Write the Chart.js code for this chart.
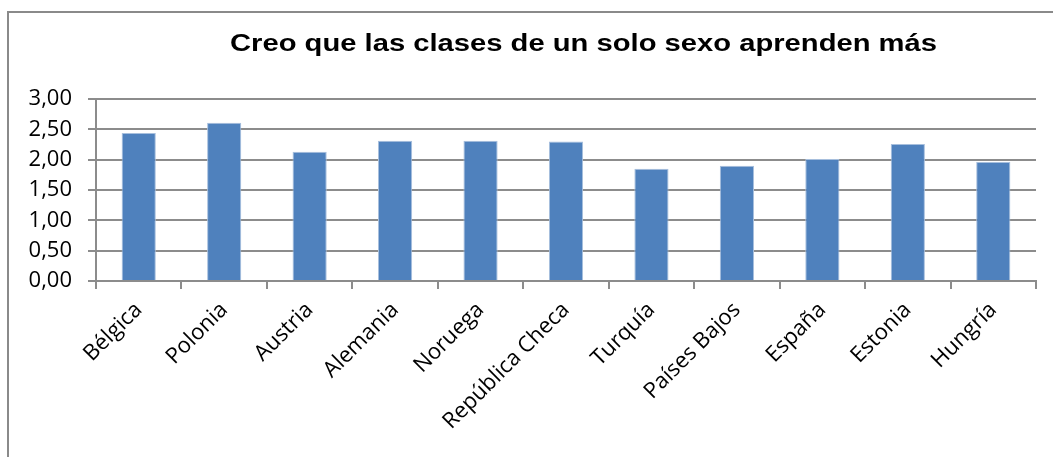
<!DOCTYPE html>
<html>
<head>
<meta charset="utf-8">
<script src="https://cdn.jsdelivr.net/npm/chart.js@4.4.1/dist/chart.umd.min.js"></script>
<style>
  html, body { margin:0; padding:0; background:#fff; }
  #wrap { width:1053px; height:457px; position:relative; }
</style>
</head>
<body>
<div id="wrap"><canvas id="chart"></canvas></div>
<script>
// data
const countries = ['Bélgica','Polonia','Austria','Alemania','Noruega','República Checa','Turquía','Países Bajos','España','Estonia','Hungría'];
const scores = [2.44, 2.61, 2.13, 2.31, 2.31, 2.30, 1.85, 1.90, 2.01, 2.26, 1.96];
const titleText = 'Creo que las clases de un solo sexo aprenden más';
const yMin = 0, yMax = 3, yStep = 0.5;

const gridGrey = '#8c8c8c';

// frame around the chart (left and top edges are visible in the reference)
const framePlugin = {
  id: 'frame',
  beforeDraw(chart) {
    const c = chart.ctx;
    c.save();
    c.fillStyle = '#fff';
    c.fillRect(0, 0, chart.width, chart.height);
    c.strokeStyle = '#8a8a8a';
    c.lineWidth = 2;
    c.beginPath();
    c.moveTo(8, chart.height + 2);
    c.lineTo(8, 12);
    c.lineTo(chart.width + 2, 12);
    c.stroke();
    c.restore();
  }
};

// the original picture is stretched sideways, so the title is drawn wide
const titlePlugin = {
  id: 'wideTitle',
  afterDraw(chart) {
    const c = chart.ctx;
    c.save();
    c.font = 'bold 23.5px "Liberation Sans", Arial, sans-serif';
    c.fillStyle = '#000';
    c.textBaseline = 'alphabetic';
    const w = c.measureText(titleText).width;
    const sx = 707 / w;
    c.translate(583.5, 51);
    c.scale(sx, 1);
    c.textAlign = 'center';
    c.fillText(titleText, 0, 0);
    c.restore();
  }
};

new Chart(document.getElementById('chart'), {
  type: 'bar',
  data: {
    labels: countries,
    datasets: [{
      data: scores,
      backgroundColor: '#4f81bd',
      borderColor: '#a7bfdd',
      borderWidth: {top:1, left:1, right:1, bottom:0},
      barPercentage: 0.4,
      categoryPercentage: 1
    }]
  },
  options: {
    responsive: true,
    maintainAspectRatio: false,
    animation: false,
    layout: { padding: {left:0, right:17, top:99, bottom:0} },
    plugins: {
      legend: { display:false },
      tooltip: { enabled:false },
      title: { display:false }
    },
    scales: {
      y: {
        min: yMin, max: yMax,
        ticks: {
          stepSize: yStep,
          color: '#000',
          padding: 16,
          font: { family:'"Open Sans", sans-serif', size:22 },
          callback: v => v.toFixed(2).replace('.', ',')
        },
        grid: { color: gridGrey, lineWidth: 2, tickLength: 8 },
        border: { color: gridGrey, width: 2 },
        afterFit(scale) { scale.width = 96; }
      },
      x: {
        ticks: {
          color: '#000',
          minRotation: 45, maxRotation: 45,
          padding: 8,
          autoSkip: false,
          font: { family:'"Open Sans", sans-serif', size:22 }
        },
        grid: { display: true, drawOnChartArea: false, color: gridGrey, lineWidth: 2, tickLength: 8, offset: true },
        border: { color: gridGrey, width: 2 },
        afterFit(scale) { scale.height = 176; }
      }
    }
  },
  plugins: [framePlugin, titlePlugin]
});
</script>
</body>
</html>
